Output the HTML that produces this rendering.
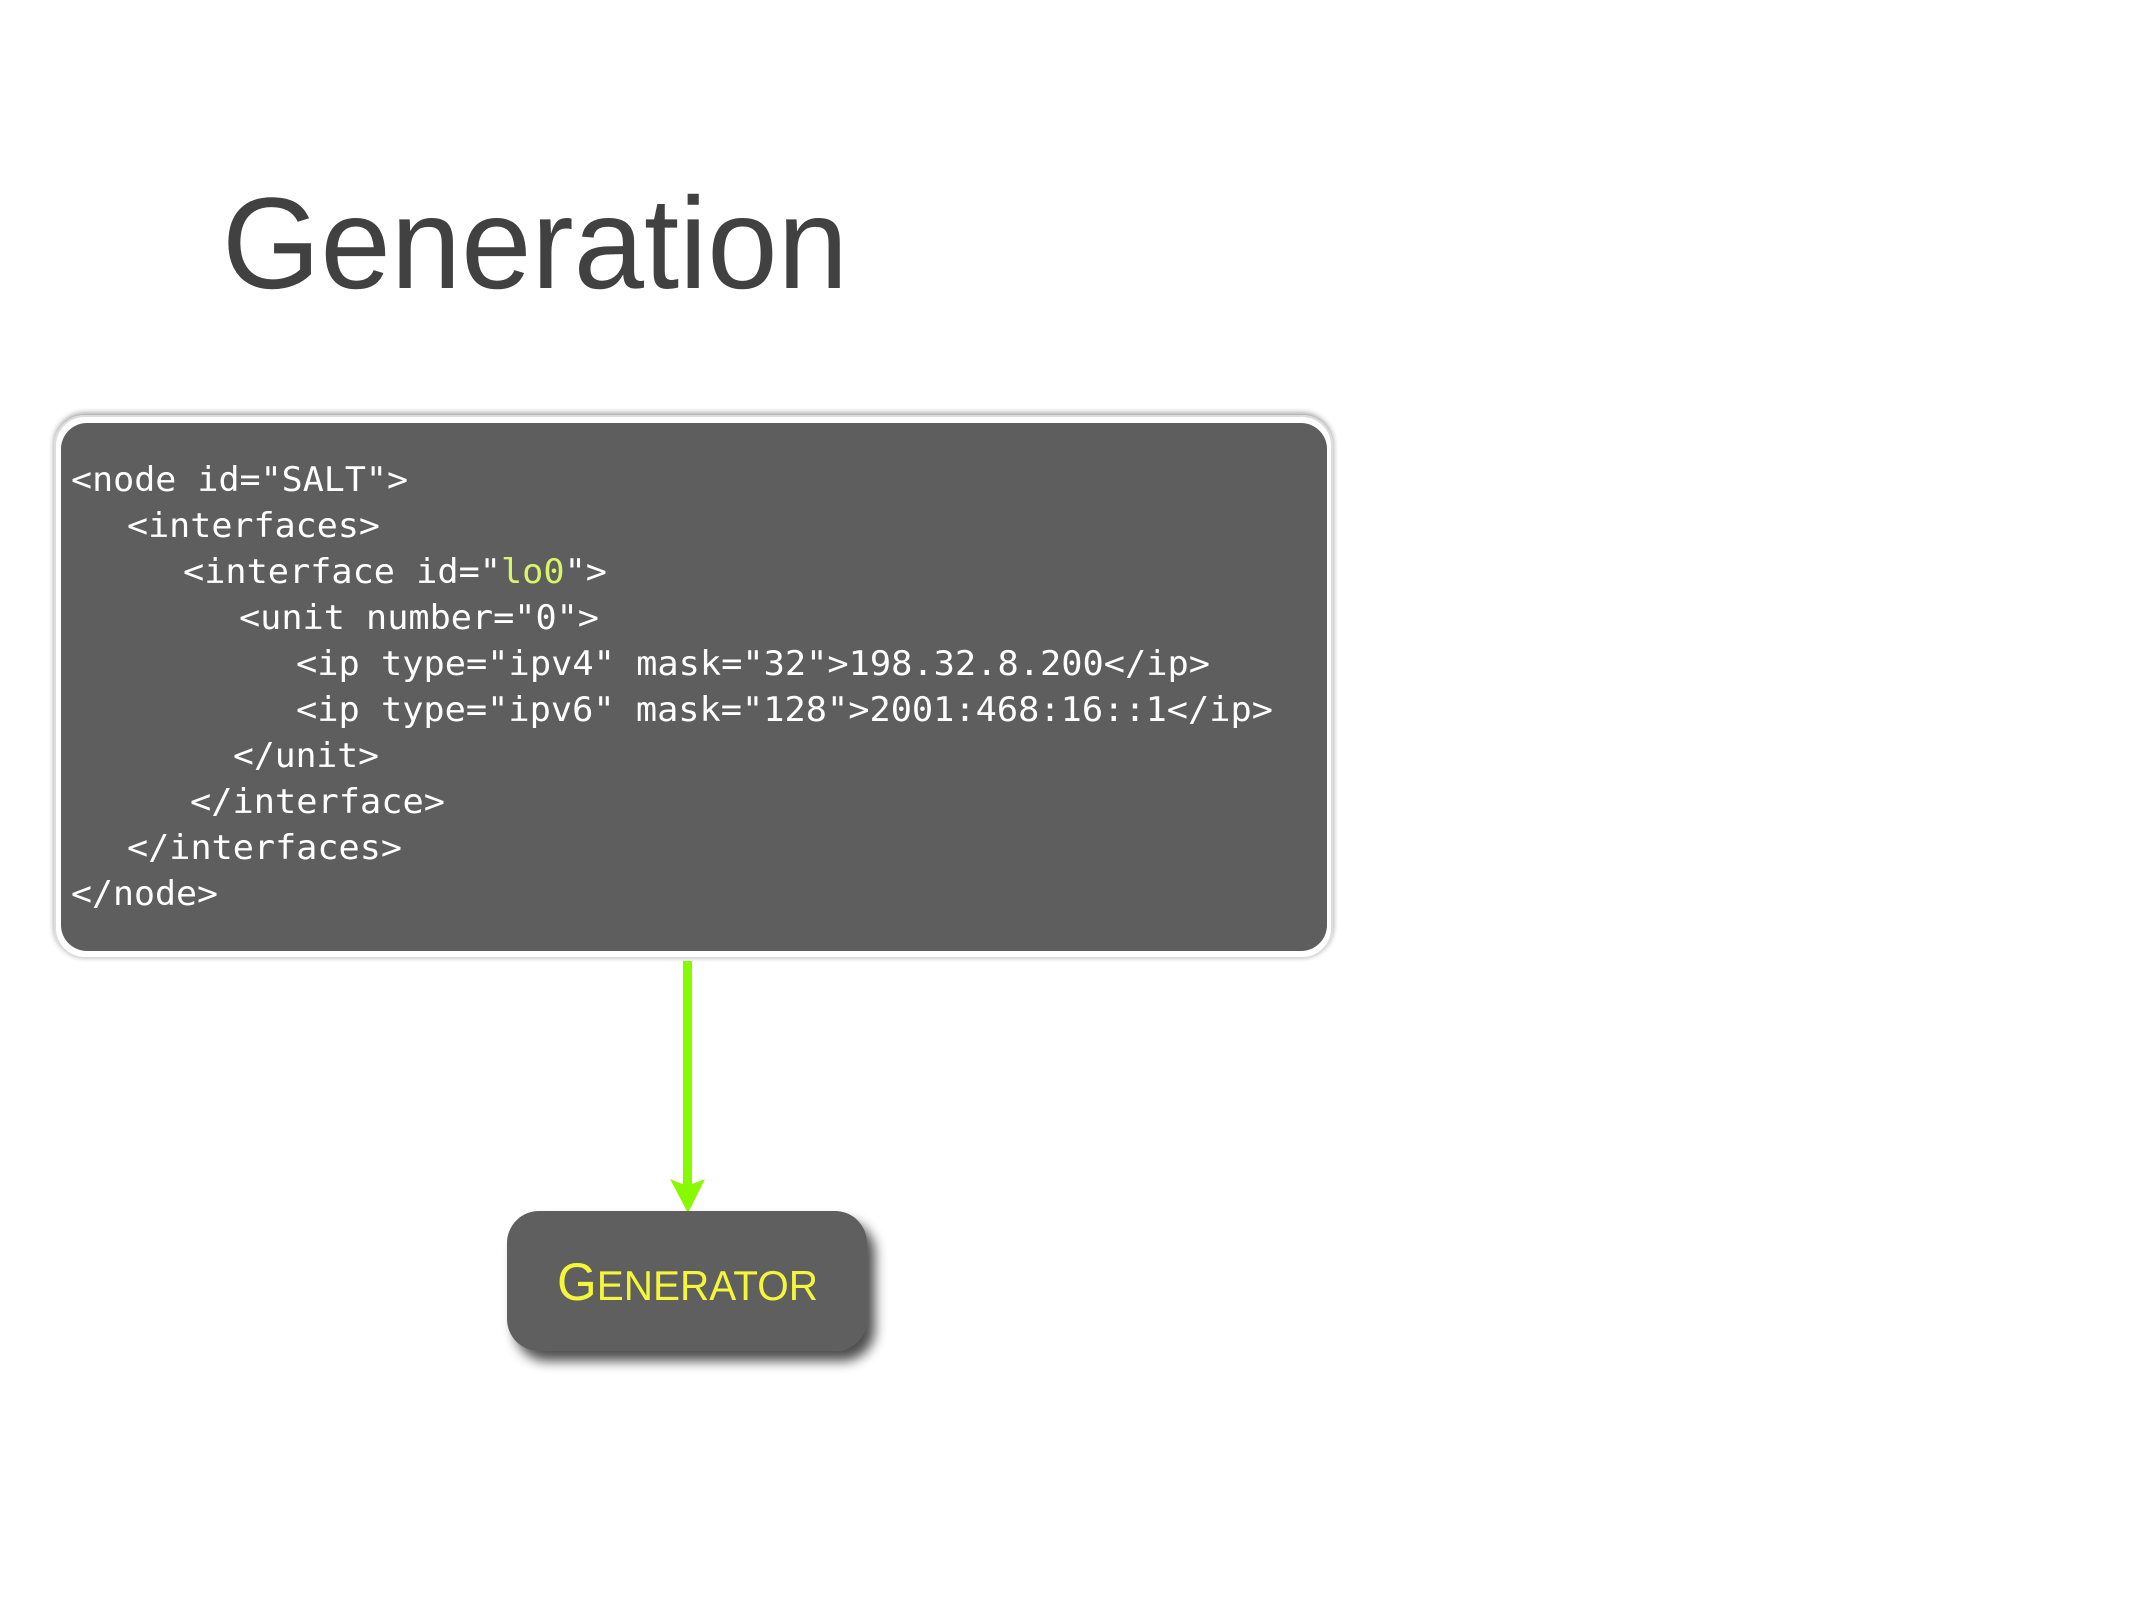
<!DOCTYPE html>
<html><head><meta charset="utf-8"><style>
html,body{margin:0;padding:0;background:#fff;width:2134px;height:1600px;overflow:hidden}
</style></head><body>
<svg width="2134" height="1600" viewBox="0 0 2134 1600" xmlns="http://www.w3.org/2000/svg">
<defs>
<filter id="sh" x="-20%" y="-20%" width="150%" height="160%"><feGaussianBlur in="SourceAlpha" stdDeviation="6"/><feOffset dx="8" dy="10"/><feComponentTransfer><feFuncA type="linear" slope="0.7"/></feComponentTransfer><feMerge><feMergeNode/><feMergeNode in="SourceGraphic"/></feMerge></filter>
<filter id="sh2" x="-5%" y="-5%" width="110%" height="110%"><feGaussianBlur in="SourceAlpha" stdDeviation="3"/><feOffset dx="0" dy="-2"/><feComponentTransfer><feFuncA type="linear" slope="0.4"/></feComponentTransfer><feMerge><feMergeNode/><feMergeNode in="SourceGraphic"/></feMerge></filter>
</defs>
<text x="222" y="288" font-family="Liberation Sans, sans-serif" font-size="130" fill="#414141" textLength="626" lengthAdjust="spacingAndGlyphs">Generation</text>
<rect x="55" y="416" width="1277" height="542" rx="30" fill="#fff" stroke="#ddd" stroke-width="2" filter="url(#sh2)"/>
<rect x="61" y="423" width="1266" height="528" rx="26" fill="#5e5e5e"/>
<g font-family="DejaVu Sans Mono, Liberation Mono, monospace" font-size="34" fill="#fff" xml:space="preserve">
<text x="71" y="491" textLength="337" lengthAdjust="spacingAndGlyphs">&lt;node id="SALT"&gt;</text>
<text x="127" y="537" textLength="253" lengthAdjust="spacingAndGlyphs">&lt;interfaces&gt;</text>
<text x="183" y="583" textLength="424" lengthAdjust="spacingAndGlyphs">&lt;interface id="<tspan fill="#d8f56a">lo0</tspan>"&gt;</text>
<text x="239" y="629" textLength="360" lengthAdjust="spacingAndGlyphs">&lt;unit number="0"&gt;</text>
<text x="296" y="675" textLength="914" lengthAdjust="spacingAndGlyphs">&lt;ip type="ipv4" mask="32"&gt;198.32.8.200&lt;/ip&gt;</text>
<text x="296" y="721" textLength="977" lengthAdjust="spacingAndGlyphs">&lt;ip type="ipv6" mask="128"&gt;2001:468:16::1&lt;/ip&gt;</text>
<text x="233" y="767" textLength="146" lengthAdjust="spacingAndGlyphs">&lt;/unit&gt;</text>
<text x="190" y="813" textLength="255" lengthAdjust="spacingAndGlyphs">&lt;/interface&gt;</text>
<text x="127" y="859" textLength="275" lengthAdjust="spacingAndGlyphs">&lt;/interfaces&gt;</text>
<text x="71" y="905" textLength="147" lengthAdjust="spacingAndGlyphs">&lt;/node&gt;</text>
</g>
<rect x="683" y="961" width="9" height="225" fill="#88fa00"/>
<path d="M670 1179 L687 1186 L705 1179 L688 1213 Z" fill="#88fa00"/>
<rect x="507" y="1211" width="360" height="140" rx="32" fill="#5f5f5f" filter="url(#sh)"/>
<text x="557" y="1300" font-family="Liberation Sans, sans-serif" fill="#f5f53a" textLength="261" lengthAdjust="spacingAndGlyphs"><tspan font-size="53">G</tspan><tspan font-size="42">ENERATOR</tspan></text>
</svg>
</body></html>
